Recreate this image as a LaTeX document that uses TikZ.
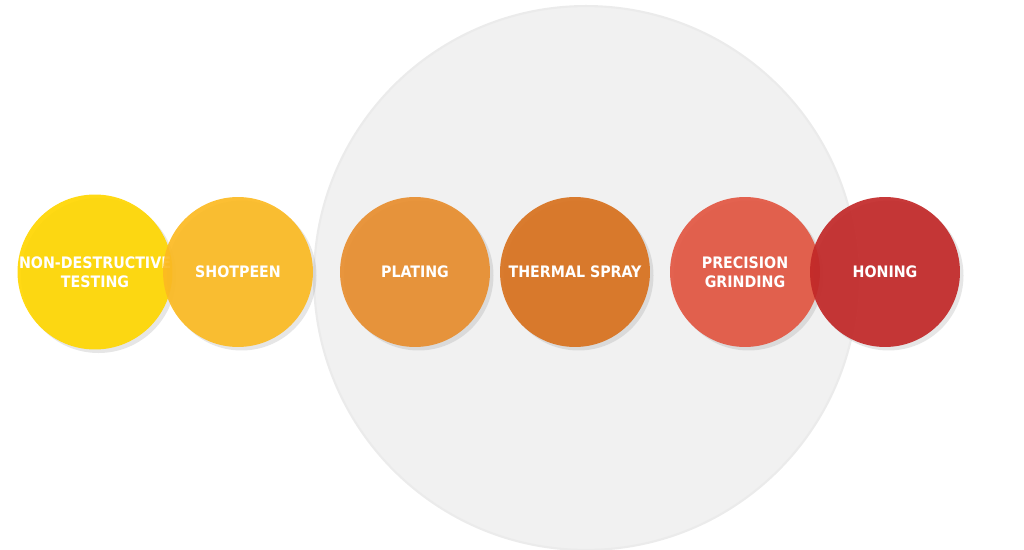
\documentclass[tikz,border=0pt]{standalone}
\usepackage{fontspec}
\setsansfont{DejaVu Sans Condensed}
\usepackage{tikz}
\usetikzlibrary{positioning,shadows}
\definecolor{ndtyellow}{RGB}{255,214,0}
\definecolor{peenorange}{RGB}{252,186,34}
\definecolor{platingorange}{RGB}{232,142,46}
\definecolor{sprayorange}{RGB}{216,113,30}
\definecolor{grindred}{RGB}{226,86,66}
\definecolor{honingred}{RGB}{194,40,40}
\definecolor{bigrey}{RGB}{241,241,241}

\begin{document}
\begin{tikzpicture}[
        x=0.02cm, y=-0.02cm,
        stage/.style={circle, minimum size=3cm, inner sep=0pt, align=center, text=white, fill opacity=0.92, text opacity=1, font=\sffamily\bfseries\small, drop shadow={opacity=0.2, shadow xshift=2pt, shadow yshift=-2pt}},
        group/.style={circle, minimum size=10.88cm, inner sep=0pt, fill=bigrey, draw=black!8, line width=1.2pt}
    ]
        \useasboundingbox (0,0) rectangle (1024,550);
        \node[group] (cell) at (586,278) {};

        \node[stage, fill=ndtyellow] (ndt) at (95,272) {NON-DESTRUCTIVE\\TESTING};
        \node[stage, fill=peenorange] (peen) at (238,272) {SHOTPEEN};
        \node[stage, fill=platingorange] (plating) at (415,272) {PLATING};
        \node[stage, fill=sprayorange] (spray) at (575,272) {THERMAL SPRAY};
        \node[stage, fill=grindred] (grind) at (745,272) {PRECISION\\GRINDING};
        \node[stage, fill=honingred] (honing) at (885,272) {HONING};
    \end{tikzpicture}
\end{document}
